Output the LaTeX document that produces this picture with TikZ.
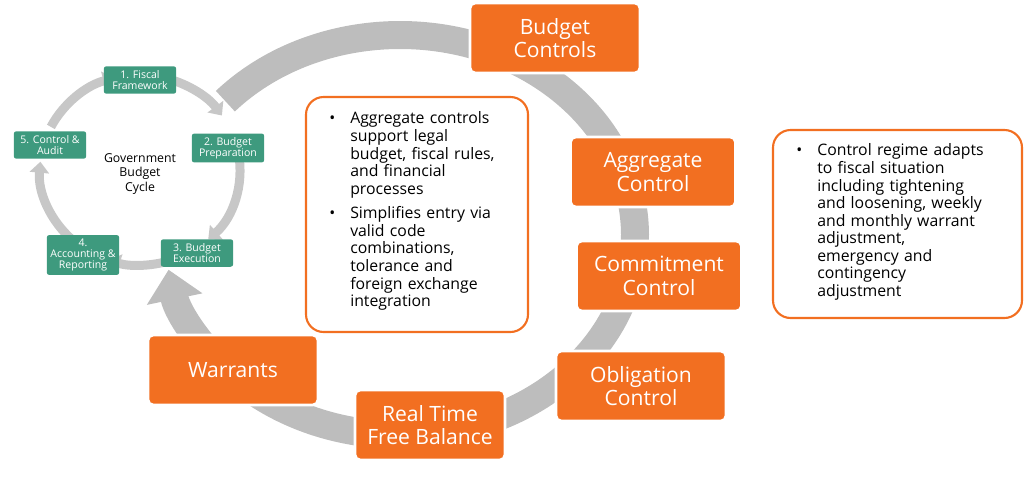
\documentclass[tikz,border=0pt]{standalone}
\usepackage{fontspec}
\setmainfont{Open Sans}
\usetikzlibrary{arrows.meta,positioning}
\definecolor{orng}{HTML}{F26F21}
\definecolor{teal}{HTML}{3E9A7E}
\definecolor{arcgray}{HTML}{BDBDBD}
\begin{document}
\begin{tikzpicture}[x=0.02cm,y=-0.02cm]
  \tikzset{stage/.style = {rectangle,rounded corners=3pt,fill=orng,draw=white,line width=1.5pt,text=white,align=center,font=\fontsize{12}{13.5}\selectfont,minimum height=1.4cm}}
  \tikzset{cyclebox/.style = {rectangle,rounded corners=1.5pt,fill=teal,text=white,align=center,font=\fontsize{6}{6.5}\selectfont,inner sep=2pt,minimum height=0.55cm,minimum width=1.45cm}}
  \tikzset{notebox/.style = {rectangle,align=left,font=\fontsize{9}{10}\selectfont,anchor=north west,inner sep=0pt}}
  \tikzset{bigarc/.style = {arcgray,line width=0.56cm,-{Triangle[width=1.1cm,length=0.6cm]}}}
  \tikzset{smallarc/.style = {arcgray!85,line width=0.18cm,-{Triangle[width=0.38cm,length=0.22cm]}}}
  \useasboundingbox (0,0) rectangle (1024,480);

  % large cycle
  \draw[bigarc] (400,235) ++(222:235 and 200) arc[start angle=222,end angle=530,x radius=235,y radius=200];

  % small cycle
  \foreach \a/\b in {285/325, 350/407, 72/108, 132/185, 207/255}
    \draw[smallarc] (140,170) ++(\a:100 and 95) arc[start angle=\a,end angle=\b,x radius=100,y radius=95];

  \node[cyclebox] (fiscal) at (140,80) {1. Fiscal\\Framework};
  \node[cyclebox] (prep) at (228,148) {2. Budget\\Preparation};
  \node[cyclebox] (exec) at (197,253) {3. Budget\\Execution};
  \node[cyclebox] (acct) at (83,255) {4.\\Accounting \&\\Reporting};
  \node[cyclebox] (audit) at (50,145) {5. Control \&\\Audit};
  \node[font=\fontsize{7}{8}\selectfont,align=center] (gbc) at (140,174) {Government\\Budget\\Cycle};

  \node[stage,minimum width=3.4cm] (controls) at (555,38) {Budget\\Controls};
  \node[stage,minimum width=3.3cm] (aggr) at (653,172) {Aggregate\\Control};
  \node[stage,minimum width=3.3cm] (commit) at (659,276) {Commitment\\Control};
  \node[stage,minimum width=3.4cm] (oblig) at (641,386) {Obligation\\Control};
  \node[stage,minimum width=3.0cm] (rtfb) at (430,425) {Real Time\\Free Balance};
  \node[stage,minimum width=3.4cm] (warr) at (233,370) {Warrants};

  \draw[orng,line width=1.2pt,rounded corners=10pt] (306,97) rectangle (528,332);
  \node[notebox,text width=3.9cm] (aggnote) at (306,92) {%
    \begin{itemize}\setlength{\topsep}{0pt}\setlength{\itemsep}{0pt}\setlength{\parsep}{0pt}\setlength{\leftmargin}{0.9cm}\setlength{\labelsep}{0.3cm}
    \item Aggregate controls support legal budget, fiscal rules, and financial processes
    \item Simplifies entry via valid code combinations, tolerance and foreign exchange integration
    \end{itemize}};
  \draw[orng,line width=1.2pt,rounded corners=10pt] (773,130) rectangle (1022,318);
  \node[notebox,text width=4.3cm] (regnote) at (773,124) {%
    \begin{itemize}\setlength{\topsep}{0pt}\setlength{\leftmargin}{0.9cm}\setlength{\labelsep}{0.3cm}
    \item Control regime adapts to fiscal situation including tightening and loosening, weekly and monthly warrant adjustment, emergency and contingency adjustment
    \end{itemize}};
\end{tikzpicture}
\end{document}
